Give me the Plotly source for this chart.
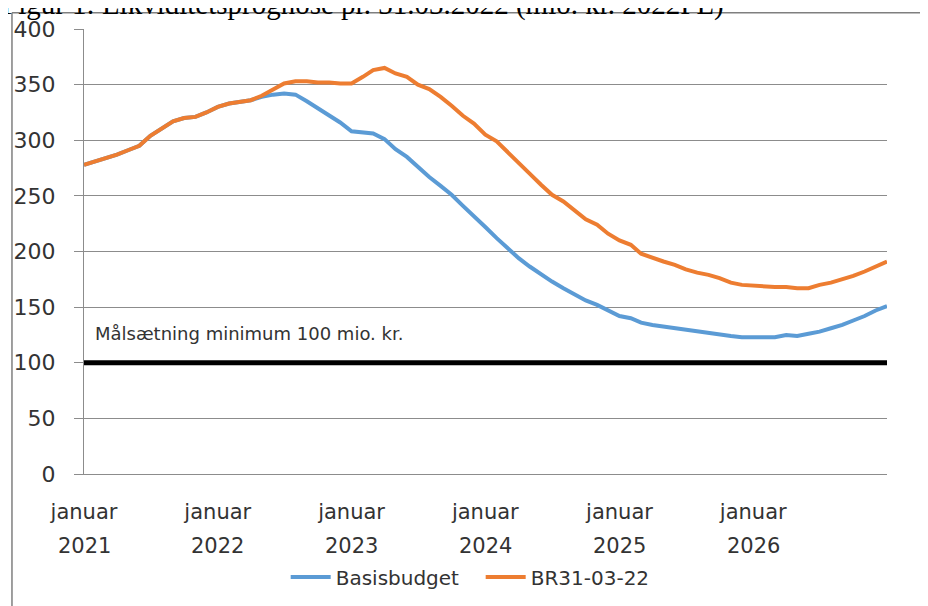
import pandas as pd
import plotly.graph_objects as go

# ---- data (monthly, januar 2021 .. januar 2027) ----
months = pd.date_range("2021-01-01", periods=73, freq="MS")

basisbudget = [
    278, 281, 284, 287, 291, 295, 304, 311, 317, 320, 321, 325,
    330, 333, 334, 336, 339, 341, 342, 341, 335, 329, 323, 316,
    308, 307, 306, 301, 292, 285, 276, 267, 259, 251, 241, 232,
    222, 212, 203, 194, 186.5, 179.5, 173, 167, 161, 156, 152, 147,
    142, 140, 136, 134, 132.5, 131, 129.5, 128, 127, 125, 124, 123,
    123, 123, 123, 125, 124, 126, 128, 131, 134, 138, 142, 147,
    151,
]

br310322 = [
    278, 281, 284, 287, 291, 295, 304, 311, 317, 320, 321, 325,
    330, 333, 334, 336, 340, 346, 351, 353, 353, 352, 352, 351,
    351, 357, 363, 365, 360, 357, 350, 346, 339, 331, 322, 315,
    305, 299, 290, 280, 270, 260, 251, 245, 237, 229, 224, 216,
    210, 206, 198, 194, 191, 188, 184, 181, 179, 176, 172, 170,
    169, 168, 168, 168, 167, 167, 170, 172, 175, 178, 182, 186,
    191,
]

target_value = 100
target = [target_value] * len(months)

tick_dates = ["2021-01-01", "2022-01-01", "2023-01-01", "2024-01-01", "2025-01-01", "2026-01-01"]
tick_month = "januar"
tick_years = ["2021", "2022", "2023", "2024", "2025", "2026"]

title_text = "Figur 1: Likviditetsprognose pr. 31.03.2022 (mio. kr. 2022PL)"
target_label = "Målsætning minimum 100 mio. kr."
target_label_y = 126

# ---- figure ----
FONT = "DejaVu Sans"
GRID = "#8c8c8c"
TXT = "#333333"

fig = go.Figure()

fig.add_trace(go.Scatter(
    x=months, y=target, mode="lines", showlegend=False, hoverinfo="skip",
    line=dict(color="#000000", width=5),
))
fig.add_trace(go.Scatter(
    x=months, y=basisbudget, mode="lines", name="Basisbudget",
    line=dict(color="#5B9BD5", width=4),
))
fig.add_trace(go.Scatter(
    x=months, y=br310322, mode="lines", name="BR31-03-22",
    line=dict(color="#ED7D31", width=4),
))

annotations = [
    dict(text=target_label, xref="paper", x=0.0112, xanchor="left",
         yref="y", y=target_label_y, yanchor="middle", showarrow=False,
         font=dict(family=FONT, size=18, color=TXT)),
    dict(text=title_text, xref="paper", x=-0.1046, xanchor="left",
         yref="paper", y=1.054, yanchor="middle", showarrow=False,
         font=dict(family="Liberation Serif", size=29, color="#000000")),
]
for d, yr in zip(tick_dates, tick_years):
    annotations.append(dict(
        text=yr, xref="x", x=d, xanchor="center",
        yref="paper", y=-0.1619, yanchor="middle", showarrow=False,
        font=dict(family=FONT, size=21, color=TXT)))

fig.update_layout(
    width=920, height=598,
    margin=dict(l=76, r=41, t=21, b=132, autoexpand=False),
    paper_bgcolor="white", plot_bgcolor="white",
    font=dict(family=FONT, size=21, color=TXT),
    xaxis=dict(
        range=[months[0], months[-1]],
        tickvals=tick_dates, ticktext=[tick_month] * len(tick_dates),
        showgrid=False, showline=True, linecolor=GRID, linewidth=1,
        ticks="", ticklabelstandoff=19,
        tickfont=dict(family=FONT, size=21, color=TXT),
        zeroline=False,
    ),
    yaxis=dict(
        range=[0, 400], dtick=50, tick0=0,
        showgrid=True, gridcolor=GRID, gridwidth=1,
        showline=True, linecolor=GRID, linewidth=1,
        ticks="outside", ticklen=9, tickcolor=GRID, tickwidth=1,
        ticklabelstandoff=14,
        tickfont=dict(family=FONT, size=22, color=TXT),
        zeroline=False,
    ),
    legend=dict(
        orientation="h", xref="paper", yref="paper",
        x=0.494, xanchor="center", y=-0.2316, yanchor="middle",
        font=dict(family=FONT, size=20, color=TXT),
        bgcolor="rgba(0,0,0,0)", itemwidth=40,
        entrywidth=140, entrywidthmode="pixels",
    ),
    annotations=annotations,
    shapes=[
        dict(type="line", xref="paper", yref="paper",
             x0=-0.0897, x1=1.06, y0=1.0367, y1=1.0367,
             line=dict(color="#7f7f7f", width=1.5)),
        dict(type="line", xref="paper", yref="paper",
             x0=-0.0897, x1=-0.0897, y0=1.0367, y1=-0.31,
             line=dict(color="#7f7f7f", width=1.5)),
    ],
)

fig.write_html("out.html")
